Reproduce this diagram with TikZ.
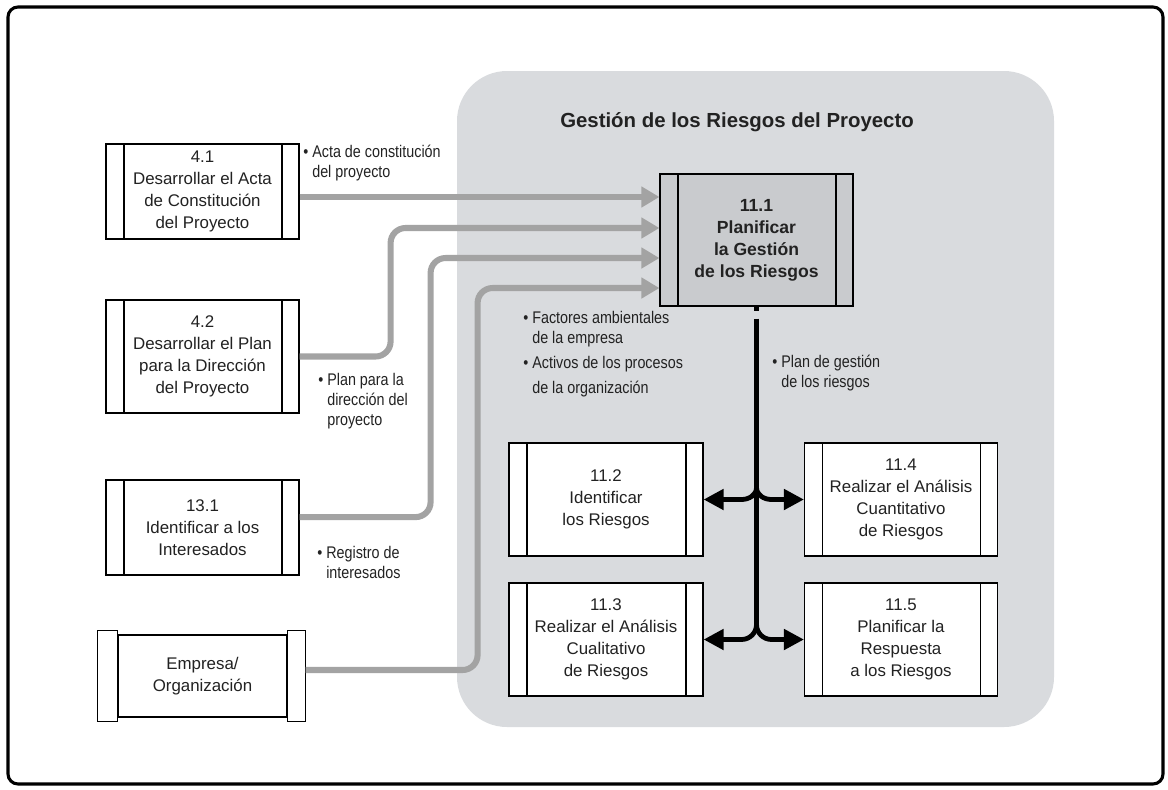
\documentclass[tikz,border=0pt]{standalone}
\usepackage{fontspec}
\setmainfont{Liberation Sans}
\newfontfamily\condfont[FakeStretch=0.85]{Liberation Sans}
\usetikzlibrary{arrows.meta}

\definecolor{zona}{HTML}{D9DBDE}
\definecolor{zonaosc}{HTML}{C9CBCE}
\definecolor{flecha}{HTML}{A3A3A3}
\definecolor{texto}{HTML}{222222}

\tikzset{
  proc/.style={draw, line width=0.8pt, fill=white, text=texto, align=center,
    minimum width=4.825cm, minimum height=2.825cm, inner sep=0pt,
    font=\fontsize{12}{15.6}\selectfont,
    path picture={
      \draw[line width=0.8pt]
        ([xshift=0.45cm]path picture bounding box.north west) -- ([xshift=0.45cm]path picture bounding box.south west)
        ([xshift=-0.425cm]path picture bounding box.north east) -- ([xshift=-0.425cm]path picture bounding box.south east);}},
  orgbox/.style={draw, line width=0.8pt, fill=white, text=texto, align=center,
    minimum width=4.225cm, minimum height=2.05cm, inner sep=0pt,
    font=\fontsize{12}{15.6}\selectfont},
  gline/.style={flecha, line width=4.3pt, rounded corners=0.375cm,
    -{Triangle[length=0.45cm,width=0.5cm]}},
  bline/.style={black, line width=3.4pt},
  btip/.style={-{Triangle[length=0.5cm,width=0.5cm]}},
  lbl/.style={anchor=base west, align=left, inner sep=0pt, text=texto,
    font=\condfont\fontsize{12}{14.2}\selectfont},
}

\newcommand{\bul}{\textbullet\ }
\newcommand{\sinbul}{\hphantom{\textbullet\ }}

\begin{document}
\begin{tikzpicture}[x=0.025cm,y=-0.025cm]
    \useasboundingbox (0,0) rectangle (1168,789);

    % marco y zona del area de conocimiento
    \draw[line width=2.2pt, rounded corners=0.25cm] (8,7) rectangle (1163,784);
    \fill[zona, rounded corners=1.25cm] (457,71) rectangle (1054,727);
    \node[font=\bfseries\fontsize{14.5}{17}\selectfont, text=texto] (titulo) at (737,122)
        {Gestión de los Riesgos del Proyecto};

    % procesos de entrada
    \node[proc, minimum height=2.375cm] (b41) at (202.5,191.5)
        {4.1\\Desarrollar el Acta\\de Constitución\\del Proyecto};
    \node[proc] (b42) at (202.5,356.5)
        {4.2\\Desarrollar el Plan\\para la Dirección\\del Proyecto};
    \node[proc, minimum height=2.375cm] (b131) at (202.5,527.5)
        {13.1\\Identificar a los\\Interesados};
    \node[orgbox] (emp) at (202.5,676) {Empresa/\\Organización};
    \draw[line width=0.8pt, fill=white] ([xshift=-0.5cm,yshift=0.1cm]emp.north west) rectangle ([yshift=-0.1cm]emp.south west);
    \draw[line width=0.8pt, fill=white] ([yshift=0.1cm]emp.north east) rectangle ([xshift=0.45cm,yshift=-0.1cm]emp.south east);

    % procesos de riesgos
    \node[proc, fill=zonaosc, minimum height=3.3cm, font=\bfseries\fontsize{12.5}{15.6}\selectfont] (p111) at (756.5,240)
        {11.1\\Planificar\\la Gestión\\de los Riesgos};
    \node[proc, minimum width=4.85cm] (p112) at (606,499.5) {11.2\\Identificar\\los Riesgos};
    \node[proc, minimum width=4.85cm] (p113) at (606,639.5) {11.3\\Realizar el Análisis\\Cualitativo\\de Riesgos};
    \node[proc] (p114) at (901,499.5) {11.4\\Realizar el Análisis\\Cuantitativo\\de Riesgos};
    \node[proc] (p115) at (901,639.5) {11.5\\Planificar la\\Respuesta\\a los Riesgos};

    % entradas
    \coordinate (in1) at ([yshift=1.075cm]p111.west);
    \coordinate (in2) at ([yshift=0.3cm]p111.west);
    \coordinate (in3) at ([yshift=-0.45cm]p111.west);
    \coordinate (in4) at ([yshift=-1.2cm]p111.west);
    \draw[gline] (b41.east |- in1) -- (in1);
    \draw[gline] (b42.east) -- ++(91,0) |- (in2);
    \draw[gline] ([yshift=0.26cm]b131.east) -- ++(131,0) |- (in3);
    \draw[gline] ([xshift=0.45cm,yshift=0.15cm]emp.east) -- ++(172,0) |- (in4);

    % salidas
    \coordinate (ja) at (p111.south |- p112.east);
    \coordinate (jb) at (p111.south |- p113.east);
    \draw[bline, dash pattern=on 0.1cm off 0.2cm on 20cm] (p111.south) -- ([yshift=0.375cm]jb);
    \draw[bline, btip] ([yshift=0.3cm]ja) to[out=-90,in=0] ([xshift=-0.375cm]ja) -- (p112.east);
    \draw[bline, btip] ([yshift=0.3cm]ja) to[out=-90,in=180] ([xshift=0.375cm]ja) -- (p114.west);
    \draw[bline, btip] ([yshift=0.375cm]jb) to[out=-90,in=0] ([xshift=-0.375cm]jb) -- (p113.east);
    \draw[bline, btip] ([yshift=0.375cm]jb) to[out=-90,in=180] ([xshift=0.375cm]jb) -- (p115.west);

    % etiquetas (base = ultima linea)
    \node[lbl] (l41) at (303,177) {\bul Acta de constitución\\\sinbul del proyecto};
    \node[lbl] (l42) at (318,425) {\bul Plan para la\\\sinbul dirección del\\\sinbul proyecto};
    \node[lbl] (l131) at (317,578) {\bul Registro de\\\sinbul interesados};
    \node[lbl] (lamb) at (523,393) {\bul Factores ambientales\\\sinbul de la empresa\\[0.12cm]\bul Activos de los procesos\\[0.12cm]\sinbul de la organización};
    \node[lbl] (lplan) at (772,387) {\bul Plan de gestión\\\sinbul de los riesgos};
\end{tikzpicture}
\end{document}
